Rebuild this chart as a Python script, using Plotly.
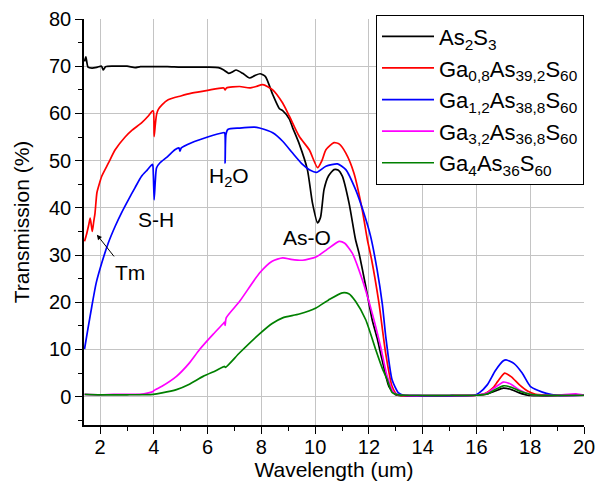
import plotly.graph_objects as go

# Transmission spectra of Ga-As-S glasses (wavelength in um, transmission in %)
as2s3_x = [1.42, 1.47, 1.55, 1.7, 1.9, 2.05, 2.12, 2.2, 2.5, 3.0, 3.3, 3.5, 4.0, 4.5, 5.0, 5.5, 6.0,
           6.4, 6.6, 6.78, 6.92, 7.06, 7.3, 7.56, 7.75, 7.95, 8.15, 8.42, 8.67, 8.79, 9.04, 9.16,
           9.41, 9.71, 9.90, 10.09, 10.2, 10.33, 10.5, 10.7, 10.85, 11.01, 11.26, 11.5, 11.63,
           11.88, 12.12, 12.3, 12.49, 12.74, 12.99, 13.2, 14, 15, 16, 16.4, 16.7, 17.0, 17.3,
           17.6, 17.9, 18.3, 19, 20]
as2s3_y = [71.0, 72.0, 69.8, 69.6, 69.8, 70.0, 69.2, 69.9, 70.0, 70.0, 69.7, 69.9, 69.9, 69.9,
           69.8, 69.8, 69.8, 69.7, 69.2, 68.5, 68.8, 69.2, 68.5, 67.5, 68.0, 68.4, 67.8, 64.0,
           61.0, 60.6, 58.8, 57.0, 53.5, 48.1, 41.0, 36.8, 38.0, 43.9, 46.8, 48.1, 48.0, 46.7,
           41.0, 33.3, 30.4, 23.4, 16.3, 12.5, 7.8, 2.2, 0.4, 0.2, 0.2, 0.2, 0.3, 0.6, 1.2, 1.8,
           1.5, 0.8, 0.3, 0.2, 0.2, 0.3]

ga08_x = [1.42, 1.5, 1.58, 1.63, 1.68, 1.71, 1.76, 1.81, 1.88, 1.94, 2.06, 2.31, 2.56, 2.93, 3.2,
          3.54, 3.8, 3.94, 3.98, 4.01, 4.05, 4.1, 4.16, 4.3, 4.53, 5.0, 5.4, 6.0, 6.6, 6.65, 6.7,
          7.19, 7.56, 7.8, 8.05, 8.42, 8.79, 9.04, 9.41, 9.78, 10.09, 10.25, 10.4, 10.7, 10.9,
          11.14, 11.44, 11.75, 11.94, 12.1, 12.37, 12.62, 12.86, 13.05, 13.5, 14, 15, 16, 16.3,
          16.6, 16.8, 17.05, 17.3, 17.6, 17.9, 18.2, 19, 20]
ga08_y = [32.9, 34.5, 36.5, 37.8, 36.0, 35.0, 37.0, 38.9, 43.2, 44.5, 46.7, 49.5, 52.3, 55.0,
          56.5, 58.0, 59.5, 60.5, 60.5, 55.1, 57.5, 59.8, 60.8, 61.8, 62.9, 63.7, 64.3, 64.9,
          65.4, 65.0, 65.4, 65.7, 65.4, 65.7, 66.1, 65.0, 62.2, 59.4, 55.1, 52.3, 48.5, 50.0,
          52.3, 53.8, 53.5, 51.6, 47.4, 39.6, 33.3, 29.0, 19.9, 9.3, 2.2, 0.4, 0.2, 0.2, 0.2,
          0.3, 0.6, 1.8, 3.3, 5.0, 4.2, 2.5, 1.2, 0.5, 0.3, 0.3]

ga12_x = [1.42, 1.55, 1.69, 1.85, 2.06, 2.3, 2.56, 2.8, 3.05, 3.3, 3.54, 3.75, 3.95, 3.98, 4.01,
          4.05, 4.1, 4.22, 4.5, 4.78, 4.93, 4.97, 5.02, 5.4, 6.0, 6.57, 6.63, 6.65, 6.68, 6.75,
          7.19, 7.74, 7.93, 8.42, 8.79, 9.16, 9.53, 9.8, 10.05, 10.4, 10.83, 11.14, 11.5, 11.81,
          12.06, 12.3, 12.5, 12.62, 12.86, 13.1, 13.3, 14, 15, 15.9, 16.1, 16.4, 16.7, 17.0,
          17.1, 17.4, 17.7, 18.0, 18.3, 18.6, 19.0, 20]
ga12_y = [10.1, 14.5, 19.1, 24.0, 28.3, 32.5, 36.1, 39.0, 41.7, 44.3, 46.7, 48.0, 49.2, 47.0,
          41.7, 45.5, 48.5, 49.5, 50.8, 52.3, 52.7, 52.0, 52.7, 53.8, 55.0, 55.9, 55.9, 49.5,
          55.5, 56.6, 56.9, 57.1, 56.9, 55.9, 54.1, 51.6, 49.2, 48.0, 47.5, 48.8, 49.3, 48.1,
          43.9, 38.9, 34.0, 27.0, 19.5, 13.0, 3.6, 0.8, 0.3, 0.2, 0.2, 0.3, 0.8, 2.5, 5.5, 7.6,
          7.8, 7.0, 5.0, 2.2, 1.3, 0.7, 0.3, 0.3]

ga32_x = [1.42, 2, 2.5, 3, 3.48, 3.8, 3.97, 4.0, 4.3, 4.84, 5.3, 5.7, 6.2, 6.6, 6.63, 6.65, 6.69,
          7.19, 7.93, 8.4, 8.79, 9.1, 9.53, 10.03, 10.4, 10.89, 11.1, 11.38, 11.75, 12.12, 12.43,
          12.68, 12.93, 13.2, 14, 15, 16, 16.4, 16.7, 17.0, 17.3, 17.6, 18.0, 18.4, 19, 19.7, 20]
ga32_y = [0.5, 0.4, 0.5, 0.5, 0.5, 0.8, 1.1, 1.3, 2.2, 4.3, 7.0, 10.0, 13.2, 15.6, 15.8, 15.1,
          16.7, 20.2, 26.2, 28.7, 29.4, 29.1, 28.9, 29.6, 31.0, 32.9, 32.5, 30.4, 24.8, 17.7,
          10.7, 4.3, 0.8, 0.3, 0.3, 0.3, 0.3, 0.8, 2.0, 3.1, 2.6, 1.4, 0.5, 0.3, 0.3, 0.6, 0.3]

ga4_x = [1.42, 2, 3, 3.97, 4.3, 4.84, 5.3, 5.83, 6.3, 6.63, 6.66, 7.19, 7.93, 8.4, 8.79, 9.41,
         10.03, 10.5, 11.01, 11.25, 11.5, 11.88, 12.25, 12.49, 12.68, 12.86, 13.1, 14, 15, 16,
         16.4, 16.7, 17.0, 17.3, 17.6, 18.0, 18.4, 19, 20]
ga4_y = [0.5, 0.4, 0.4, 0.5, 0.8, 1.5, 2.6, 4.3, 5.5, 6.4, 6.2, 9.3, 13.3, 15.5, 16.7, 17.5,
         18.8, 20.5, 22.0, 21.8, 20.2, 16.3, 10.0, 6.1, 3.6, 0.9, 0.4, 0.3, 0.3, 0.3, 0.6, 1.5,
         2.3, 2.0, 1.2, 0.5, 0.3, 0.3, 0.3]

series = [
    ("As<sub>2</sub>S<sub>3</sub>", as2s3_x, as2s3_y, "#000000"),
    ("Ga<sub>0,8</sub>As<sub>39,2</sub>S<sub>60</sub>", ga08_x, ga08_y, "#ff0000"),
    ("Ga<sub>1,2</sub>As<sub>38,8</sub>S<sub>60</sub>", ga12_x, ga12_y, "#0000ff"),
    ("Ga<sub>3,2</sub>As<sub>36,8</sub>S<sub>60</sub>", ga32_x, ga32_y, "#ff00ff"),
    ("Ga<sub>4</sub>As<sub>36</sub>S<sub>60</sub>", ga4_x, ga4_y, "#008000"),
]

FONT = "Liberation Sans, Arial, sans-serif"

fig = go.Figure()
for name, xs, ys, color in series:
    fig.add_trace(go.Scatter(
        x=xs, y=ys, name=name, mode="lines",
        line=dict(color=color, width=1.7, shape="spline", smoothing=0.6),
    ))

# Absorption band labels
labels = [("S-H", 4.07, 37.5), ("H<sub>2</sub>O", 6.78, 46.5), ("As-O", 9.69, 33.8), ("Tm", 3.11, 26.3)]
for text, lx, ly in labels:
    fig.add_annotation(x=lx, y=ly, text=text, showarrow=False,
                       font=dict(family=FONT, size=21, color="black"))
fig.add_annotation(x=1.88, y=34.3, ax=2.56, ay=29.4, axref="x", ayref="y", text="",
                   showarrow=True, arrowhead=2, arrowsize=1, arrowwidth=1, arrowcolor="black")

axis_common = dict(
    showline=True, linecolor="black", linewidth=1.5,
    ticks="outside", ticklen=7, tickwidth=1, tickcolor="black",
    showgrid=True, gridcolor="#c4c4c4", gridwidth=1, zeroline=False,
    tickfont=dict(family=FONT, size=20, color="black"),
    automargin=False,
)

fig.update_xaxes(
    range=[1.4, 20], tick0=0, dtick=2, ticklabelstandoff=-4,
    minor=dict(ticks="outside", ticklen=4, dtick=1, tickcolor="black", showgrid=False),
    title=dict(text="Wavelength (um)", font=dict(family=FONT, size=21, color="black"), standoff=6),
    **axis_common,
)
fig.update_yaxes(
    range=[-6, 80], tick0=0, dtick=10,
    minor=dict(ticks="outside", ticklen=4, dtick=5, tickcolor="black", showgrid=False),
    title=dict(text="Transmission (%)", font=dict(family=FONT, size=21, color="black"), standoff=14),
    **axis_common,
)

fig.update_layout(
    width=597, height=489,
    margin=dict(l=84, r=13, t=19, b=64, autoexpand=False),
    plot_bgcolor="white", paper_bgcolor="white",
    font=dict(family=FONT, size=20, color="black"),
    legend=dict(
        x=1, y=1.011, xanchor="right", yanchor="top",
        bgcolor="white", bordercolor="black", borderwidth=1,
        font=dict(family=FONT, size=22, color="black"),
        itemwidth=52, tracegroupgap=0,
    ),
)

fig.write_html("out.html")
